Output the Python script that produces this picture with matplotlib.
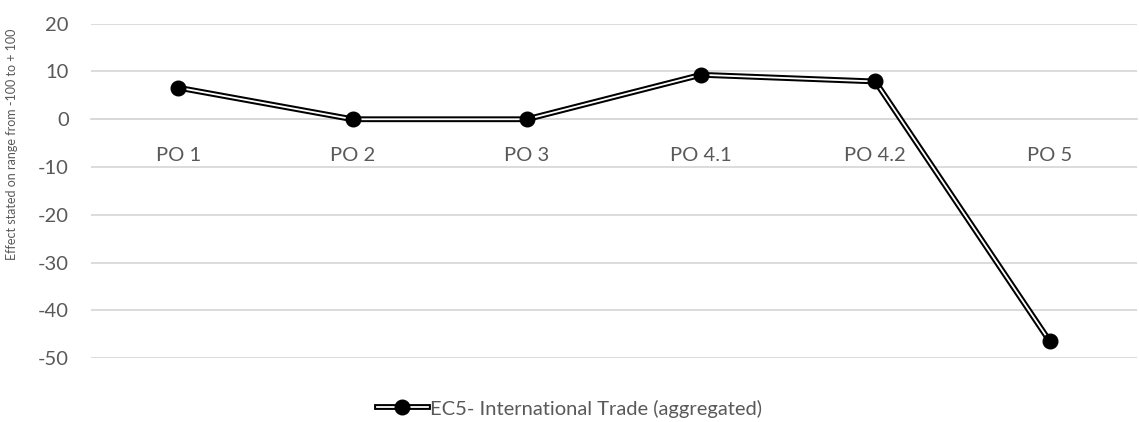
import matplotlib.pyplot as plt
from matplotlib.lines import Line2D

# -------- Data --------
categories = ["PO 1", "PO 2", "PO 3", "PO 4.1", "PO 4.2", "PO 5"]
values = [6.6, 0.0, 0.0, 9.3, 7.9, -46.4]
series_name = "EC5- International Trade (aggregated)"
y_ticks = [20, 10, 0, -10, -20, -30, -40, -50]

TEXT = "#595959"
GRID = "#d9d9d9"
plt.rcParams['font.family'] = ['Lato', 'DejaVu Sans']
plt.rcParams['axes.unicode_minus'] = False

fig = plt.figure(figsize=(11.39, 4.22), dpi=100)
ax = fig.add_axes([0.080, 0.151, 0.918, 0.793])

x = list(range(len(categories)))

# double line look: thick black with thin white inside
ax.plot(x, values, color="black", lw=4.2, solid_capstyle="butt", zorder=3)
ax.plot(x, values, color="white", lw=1.3, solid_capstyle="butt", zorder=4)
ax.plot(x, values, "o", color="black", markersize=10.5, zorder=5)

ax.set_xlim(-0.5, len(categories) - 0.5)
ax.set_ylim(-50, 20)
ax.set_yticks(y_ticks)
ax.yaxis.grid(True, color=GRID, lw=1.3)
ax.set_axisbelow(True)

for s in ["top", "right", "left"]:
    ax.spines[s].set_visible(False)
ax.spines["bottom"].set_position(("data", 0))
ax.spines["bottom"].set_color(GRID)
ax.spines["bottom"].set_linewidth(1.3)

ax.set_xticks(x)
ax.set_xticklabels(categories)
ax.tick_params(axis="x", length=0, pad=20, labelsize=14.5, labelcolor=TEXT)
ax.tick_params(axis="y", length=0, pad=16, labelsize=14.5, labelcolor=TEXT)

ax.set_ylabel("Effect stated on range from -100 to + 100", fontsize=9, color=TEXT)
ax.yaxis.set_label_coords(-0.070, 0.64)

h = (Line2D([], [], color="black", lw=4.2), Line2D([], [], color="white", lw=1.3),
     Line2D([], [], marker="o", color="black", markersize=10.5, lw=0))
fig.legend([h], [series_name], loc="center", bbox_to_anchor=(0.5, 0.032), frameon=False,
           fontsize=14.5, labelcolor=TEXT, handlelength=2.5, handletextpad=0.1)

fig.savefig("out.png", dpi=100)
